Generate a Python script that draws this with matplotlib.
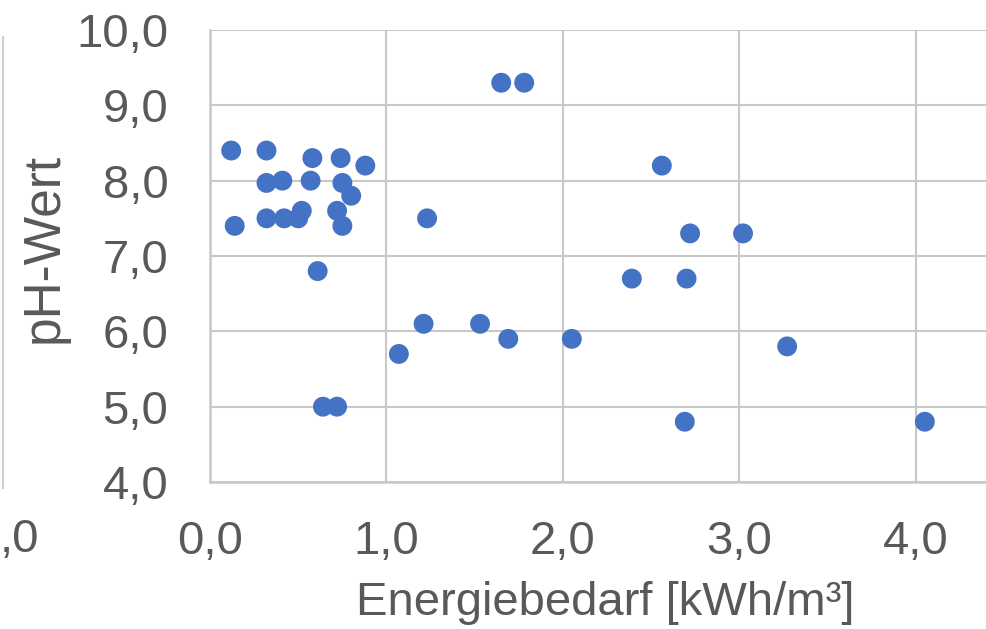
import matplotlib
matplotlib.use("Agg")
import matplotlib.pyplot as plt
from matplotlib.lines import Line2D
from matplotlib.ticker import FuncFormatter

plt.rcParams['font.family'] = ['Liberation Sans', 'DejaVu Sans']

# Data: Energiebedarf [kWh/m3] vs pH-Wert
energie = [0.12, 0.32, 0.58, 0.74, 0.88, 0.32, 0.41, 0.57, 0.75, 0.80,
           0.14, 0.32, 0.42, 0.50, 0.52, 0.72, 0.75, 0.61, 0.64, 0.72,
           1.07, 1.21, 1.23, 1.65, 1.78, 1.53, 1.69, 2.05, 2.56, 2.72,
           2.39, 2.70, 3.02, 3.27, 2.69, 4.05]
ph = [8.4, 8.4, 8.3, 8.3, 8.2, 7.97, 8.0, 8.0, 7.97, 7.8,
      7.4, 7.5, 7.5, 7.5, 7.6, 7.6, 7.4, 6.8, 5.0, 5.0,
      5.7, 6.1, 7.5, 9.3, 9.3, 6.1, 5.9, 5.9, 8.2, 7.3,
      6.7, 6.7, 7.3, 5.8, 4.8, 4.8]
x_ticks = [0, 1, 2, 3, 4]
y_ticks = [4, 5, 6, 7, 8, 9, 10]

W, H = 987, 629
fig = plt.figure(figsize=(W / 100, H / 100), dpi=100)
text_color = '#595959'
grid_color = '#c8c8c8'

ax = fig.add_axes([210 / W, (H - 482) / H, 4.5 * 176.5 / W, 452 / H])
ax.set_xlim(0, 4.5)
ax.set_ylim(4, 10)
ax.set_xticks(x_ticks)
ax.set_yticks(y_ticks)
fmt = FuncFormatter(lambda v, p: f"{v:.1f}".replace('.', ','))
ax.xaxis.set_major_formatter(fmt)
ax.yaxis.set_major_formatter(fmt)
ax.tick_params(axis='both', length=0, labelsize=34, labelcolor=text_color)
ax.tick_params(axis='y', pad=30)
ax.tick_params(axis='x', pad=27)
ax.grid(True, color=grid_color, linewidth=1.5, zorder=0)
ax.set_axisbelow(True)
for side in ['top', 'right']:
    ax.spines[side].set_visible(False)
for side in ['left', 'bottom']:
    ax.spines[side].set_color(grid_color)
    ax.spines[side].set_linewidth(1.8)

ax.scatter(energie, ph, s=205, color='#4472C4', edgecolors='none', zorder=3, clip_on=False)

fig.text(605 / W, 1 - 603 / H, 'Energiebedarf [kWh/m³]', ha='center', va='center',
         fontsize=34, color=text_color)
fig.text(44 / W, 1 - 248 / H, 'pH-Wert', rotation=90, ha='center', va='center',
         fontsize=37, color=text_color)

# Remnants of the neighbouring chart at the left edge
fig.text(0 / W, 1 - 540 / H, ',0', ha='left', va='center', fontsize=34, color=text_color)
fig.add_artist(Line2D([3 / W, 3 / W], [1 - 37 / H, 1 - 488 / H], transform=fig.transFigure,
                      color='#d0d0d0', linewidth=1.5))

fig.savefig('out.png', dpi=100)
